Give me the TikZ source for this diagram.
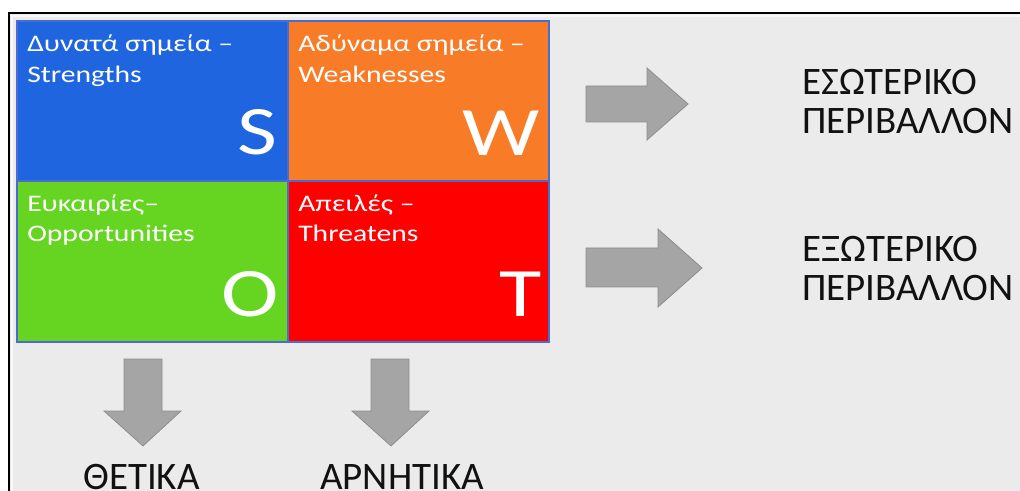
\documentclass[tikz,border=0pt]{standalone}
\usepackage{fontspec}
\setmainfont{Carlito}
\newfontfamily\quadfont[FakeStretch=1.25]{Carlito}
\definecolor{panel}{HTML}{EBEBEB}
\definecolor{qblue}{HTML}{2065E0}
\definecolor{qorange}{HTML}{F87C28}
\definecolor{qgreen}{HTML}{65D521}
\definecolor{qred}{HTML}{FF0000}
\definecolor{gridline}{HTML}{4A6CD0}
\definecolor{arrowfill}{HTML}{A5A5A5}
\definecolor{arrowedge}{HTML}{8E8E8E}
\definecolor{ink}{HTML}{111111}
\tikzset{
  quadlabel/.style={anchor=base west, inner sep=0pt, text=white,
    font=\quadfont\fontsize{17.8pt}{23pt}\selectfont},
  bigletter/.style={anchor=base east, inner sep=0pt, text=white,
    font=\quadfont\fontsize{52pt}{60pt}\selectfont},
  sidelabel/.style={anchor=base west, inner sep=0pt, text=ink,
    font=\fontsize{29.2pt}{34pt}\selectfont},
  blockarrow/.style={fill=arrowfill, draw=arrowedge, line width=0.6pt, line join=miter},
}
\begin{document}
\begin{tikzpicture}[x=0.75pt,y=-0.75pt]
\useasboundingbox (0,0) rectangle (1020,491);
\begin{scope}
\clip (0,0) rectangle (1020,491);
% page and framed slide area
\fill[white] (0,0) rectangle (1020,491);
\fill[panel] (9,13) rectangle (1040,510);
\draw[white!70!panel, line width=1pt] (12,510) -- (12,16) -- (1040,16);
\draw[black, line width=1.9pt] (9,510) -- (9,13) -- (1040,13);

% SWOT quadrants
\coordinate (tl) at (17,21);
\coordinate (mid) at (288,181);
\coordinate (br) at (549,342);
\fill[qblue]   (17,21)   rectangle (288,181);
\fill[qorange] (288,21)  rectangle (549,181);
\fill[qgreen]  (17,181)  rectangle (288,342);
\fill[qred]    (288,181) rectangle (549,342);
\draw[gridline, line width=0.8pt] (tl) rectangle (br);
\draw[gridline, line width=0.8pt] (288,21) -- (288,342);
\draw[gridline, line width=0.8pt] (17,181) -- (549,181);

% quadrant captions
\node[quadlabel] (s1) at (27,52)  {Δυνατά σημεία –};
\node[quadlabel] (s2) at (27,83)  {Strengths};
\node[quadlabel] (w1) at (298,52) {Αδύναμα σημεία –};
\node[quadlabel] (w2) at (298,83) {Weaknesses};
\node[quadlabel] (o1) at (27,212) {Ευκαιρίες–};
\node[quadlabel] (o2) at (27,242) {Opportunities};
\node[quadlabel] (t1) at (298,212){Απειλές –};
\node[quadlabel] (t2) at (298,242){Threatens};

% quadrant letters
\node[bigletter] (S) at (278,155) {S};
\node[bigletter] (W) at (540,156) {W};
\node[bigletter] (O) at (279,317) {O};
\node[bigletter] (T) at (542,317) {T};

% block arrows to the right
\draw[blockarrow] (586,86) -- (647,86) -- (647,68) -- (688,104) -- (647,140)
  -- (647,122) -- (586,122) -- cycle;
\draw[blockarrow] (586,248) -- (658,248) -- (658,229) -- (702,268) -- (658,307)
  -- (658,287) -- (586,287) -- cycle;

% block arrows downward
\draw[blockarrow] (124,359) -- (162,359) -- (162,411) -- (181,411) -- (143,446)
  -- (104,411) -- (124,411) -- cycle;
\draw[blockarrow] (371,359) -- (409,359) -- (409,411) -- (429,411) -- (391,446)
  -- (352,411) -- (371,411) -- cycle;

% environment labels
\node[sidelabel] (in1)  at (802,95)  {ΕΣΩΤΕΡΙΚΟ};
\node[sidelabel] (in2)  at (802,134) {ΠΕΡΙΒΑΛΛΟΝ};
\node[sidelabel] (ex1)  at (802,262) {ΕΞΩΤΕΡΙΚΟ};
\node[sidelabel] (ex2)  at (802,301) {ΠΕΡΙΒΑΛΛΟΝ};
\node[sidelabel] (pos)  at (83,489)  {ΘΕΤΙΚΑ};
\node[sidelabel] (neg)  at (320,489) {ΑΡΝΗΤΙΚΑ};
\end{scope}
\end{tikzpicture}
\end{document}
